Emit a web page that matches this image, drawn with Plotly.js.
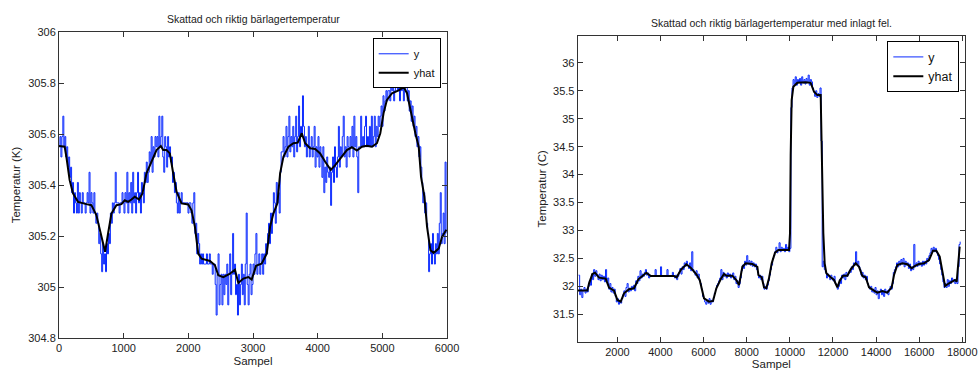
<!DOCTYPE html>
<html>
<head>
<meta charset="utf-8">
<script src="https://cdn.plot.ly/plotly-3.0.1.min.js"></script>
<style>html,body{margin:0;padding:0;background:#fff;}#chart{width:978px;height:371px;}</style>
</head>
<body>
<div id="chart"></div>
<script>
// ---------- Left chart: Skattad och riktig bärlagertemperatur ----------
const leftTitle = "Skattad och riktig bärlagertemperatur";
const leftYStep = 15; // sample spacing of the measured series below
const leftY = [
  305.55,305.59,305.51,305.59,305.67,305.55,305.59,305.51,305.55,305.47,
  305.51,305.43,305.47,305.37,305.41,305.29,305.37,305.33,305.29,305.41,
  305.29,305.37,305.33,305.29,305.37,305.33,305.33,305.29,305.33,305.37,
  305.33,305.45,305.29,305.37,305.33,305.29,305.37,305.29,305.25,305.29,
  305.25,305.17,305.21,305.13,305.06,305.17,305.09,305.13,305.06,305.17,
  305.13,305.21,305.17,305.29,305.25,305.33,305.29,305.33,305.45,305.33,
  305.33,305.33,305.29,305.33,305.33,305.37,305.33,305.29,305.37,305.33,
  305.45,305.29,305.37,305.33,305.41,305.29,305.45,305.33,305.37,305.29,
  305.37,305.45,305.33,305.37,305.29,305.41,305.37,305.33,305.45,305.41,
  305.49,305.41,305.45,305.53,305.49,305.59,305.45,305.55,305.51,305.59,
  305.55,305.59,305.51,305.67,305.55,305.59,305.67,305.51,305.45,305.59,
  305.55,305.47,305.59,305.51,305.55,305.49,305.51,305.41,305.45,305.37,
  305.41,305.33,305.29,305.37,305.29,305.33,305.37,305.33,305.33,305.33,
  305.33,305.33,305.33,305.29,305.33,305.33,305.29,305.25,305.33,305.37,
  305.21,305.25,305.13,305.21,305.17,305.09,305.13,305.09,305.13,305.09,
  305.09,305.09,305.13,305.09,305.09,305.13,305.09,305.09,305.05,305.09,
  305.09,305.01,304.89,305.05,305.13,304.93,305.01,305.05,304.93,305.05,
  304.97,305.05,305.01,305.09,304.93,305.05,305.13,304.97,305.05,305.21,
  305.05,305.09,304.97,305.01,304.89,305.05,304.93,305.01,305.09,304.97,
  305.05,304.93,305.09,305.29,305.01,304.93,305.05,305.09,304.97,305.01,
  305.09,305.05,305.13,305.21,305.05,305.09,305.13,305.05,305.09,305.13,
  305.05,305.13,305.09,305.17,305.13,305.21,305.25,305.17,305.29,305.21,
  305.29,305.37,305.33,305.25,305.41,305.33,305.37,305.29,305.45,305.53,
  305.53,305.59,305.51,305.55,305.63,305.51,305.59,305.67,305.53,305.59,
  305.55,305.63,305.51,305.59,305.67,305.53,305.59,305.71,305.55,305.63,
  305.59,305.75,305.63,305.55,305.59,305.51,305.55,305.63,305.51,305.55,
  305.59,305.51,305.55,305.63,305.47,305.55,305.51,305.59,305.47,305.55,
  305.51,305.43,305.55,305.37,305.47,305.41,305.51,305.45,305.43,305.47,
  305.32,305.45,305.51,305.41,305.55,305.47,305.43,305.51,305.63,305.47,
  305.55,305.51,305.59,305.67,305.51,305.55,305.47,305.59,305.55,305.51,
  305.59,305.55,305.63,305.51,305.67,305.55,305.59,305.51,305.37,305.55,
  305.55,305.67,305.55,305.59,305.55,305.63,305.67,305.55,305.59,305.55,
  305.63,305.55,305.67,305.55,305.59,305.67,305.55,305.63,305.59,305.67,
  305.63,305.67,305.71,305.63,305.75,305.69,305.73,305.77,305.73,305.77,
  305.77,305.73,305.81,305.77,305.85,305.73,305.77,305.81,305.85,305.77,
  305.81,305.73,305.85,305.77,305.81,305.73,305.77,305.85,305.81,305.73,
  305.77,305.69,305.73,305.65,305.71,305.63,305.67,305.59,305.63,305.55,
  305.59,305.51,305.55,305.47,305.41,305.33,305.37,305.29,305.33,305.25,
  305.21,305.06,305.13,305.17,305.09,305.21,305.13,305.09,305.17,305.13,
  305.21,305.13,305.25,305.37,305.17,305.21,305.29,305.17,305.49,305.21
];
const leftHatX = [0,88,114,165,217,294,423,501,578,656,713,759,811,888,966,1017,1069,1121,1172,1239,1291,1353,1430,1508,1575,1611,1663,1714,1766,1818,1895,1999,2050,2102,2153,2205,2334,2412,2463,2541,2644,2721,2773,2851,2928,2980,3047,3135,3212,3264,3315,3377,3419,3470,3548,3625,3692,3754,3806,3883,3961,4038,4116,4203,4271,4348,4451,4529,4606,4684,4761,4839,4916,4968,5019,5071,5149,5252,5329,5381,5443,5510,5562,5598,5650,5691,5743,5794,5872,5923,5990];
const leftHat = [305.553,305.55,305.511,305.419,305.367,305.334,305.325,305.321,305.282,305.203,305.138,305.21,305.288,305.321,305.325,305.34,305.334,305.343,305.354,305.343,305.367,305.446,305.491,305.537,305.553,305.537,305.537,305.524,305.446,305.374,305.328,305.324,305.301,305.236,305.131,305.111,305.102,305.085,305.046,305.039,305.052,305.068,305.016,305.033,305.039,305.029,305.083,305.092,305.131,305.236,305.288,305.328,305.446,305.511,305.55,305.564,305.566,305.603,305.564,305.544,305.541,305.524,305.491,305.459,305.478,305.505,305.537,305.548,305.535,305.55,305.554,305.55,305.564,305.603,305.682,305.734,305.76,305.771,305.784,305.76,305.682,305.603,305.55,305.432,305.354,305.236,305.144,305.134,305.151,305.197,305.225];

// ---------- Right chart: with injected fault ----------
const rightTitle = "Skattad och riktig bärlagertemperatur med inlagt fel.";
const rightYStart = 200, rightYStep = 50;
const rightY = [
  32.20,31.85,31.95,31.80,31.92,31.98,31.88,31.95,31.90,32.00,
  32.10,32.02,32.22,32.12,32.30,32.18,32.28,32.20,32.12,32.22,
  32.10,32.20,32.12,32.18,32.08,32.30,32.10,32.15,31.95,32.05,
  31.90,31.98,31.88,31.95,31.82,31.72,31.78,31.68,31.75,31.70,
  31.78,31.85,31.92,31.82,31.98,32.05,31.90,31.97,31.92,32.00,
  31.95,32.02,31.92,32.10,32.05,32.18,32.10,32.28,32.15,32.22,
  32.18,32.25,32.30,32.20,32.24,32.15,32.20,32.19,32.19,32.19,
  32.19,32.30,32.19,32.19,32.19,32.19,32.35,32.19,32.19,32.19,
  32.19,32.19,32.30,32.19,32.19,32.19,32.19,32.25,32.19,32.15,
  32.20,32.12,32.18,32.25,32.32,32.22,32.35,32.30,32.42,32.36,
  32.45,32.38,32.32,32.42,32.28,32.62,32.30,32.25,32.20,32.28,
  32.15,32.22,32.10,32.05,31.95,31.82,31.78,31.72,31.68,31.75,
  31.70,31.78,31.68,31.75,31.72,31.80,31.88,31.95,32.02,32.05,
  32.10,32.15,32.30,32.12,32.25,32.18,32.22,32.15,32.24,32.18,
  32.22,32.15,32.20,32.24,32.12,32.18,32.05,32.10,31.98,32.05,
  32.15,32.28,32.38,32.32,32.45,32.38,32.55,32.40,32.46,32.38,
  32.45,32.36,32.42,32.35,32.40,32.30,32.25,32.15,32.20,32.12,
  32.18,32.05,31.95,32.00,31.95,32.02,32.10,32.20,32.30,32.38,
  32.50,32.55,32.62,32.70,32.60,32.65,32.78,32.62,32.70,32.64,
  32.68,32.62,32.75,32.65,32.70,32.62,32.68,35.20,35.55,35.70,
  35.62,35.75,35.60,35.70,35.65,35.72,35.60,35.75,35.64,35.70,
  35.62,35.72,35.65,35.78,35.60,35.70,35.66,35.55,35.48,35.40,
  35.50,35.38,35.45,35.40,35.55,34.60,32.35,32.45,32.30,32.25,
  32.15,32.22,32.18,32.12,32.20,32.15,32.10,32.18,32.05,32.02,
  31.95,32.00,32.12,32.05,32.20,32.15,32.22,32.12,32.25,32.18,
  32.22,32.28,32.25,32.35,32.30,32.42,32.38,32.62,32.40,32.45,
  32.35,32.30,32.20,32.25,32.15,32.20,32.12,32.18,32.05,32.00,
  31.95,32.00,31.90,31.95,31.88,31.98,31.85,31.92,31.78,31.90,
  31.95,31.85,31.92,31.82,31.95,31.88,31.92,31.85,31.95,32.00,
  31.95,32.05,32.25,32.30,32.35,32.42,32.35,32.45,32.38,32.48,
  32.40,32.50,32.35,32.45,32.38,32.42,32.32,32.40,32.28,32.35,
  32.30,32.75,32.35,32.42,32.36,32.45,32.38,32.42,32.36,32.45,
  32.38,32.45,32.40,32.50,32.45,32.55,32.60,32.68,32.62,32.70,
  32.62,32.68,32.60,32.55,32.48,32.40,32.30,32.20,32.08,31.98,
  32.05,31.98,32.12,32.00,32.10,32.05,32.15,32.08,32.12,32.05,
  32.10,32.05,32.35,32.75,32.80
];
const rightHatX = [160,609,686,840,964,1150,1459,1613,1845,2000,2155,2309,2541,2773,2974,3160,3345,3546,4087,4628,4752,4937,5200,5401,5664,5819,6020,6252,6437,6592,6793,6948,7055,7334,7519,7643,7798,7952,8262,8494,8540,8694,8802,8911,9034,9158,9313,9467,9962,10008,10039,10085,10163,10348,10735,10967,11122,11276,11431,11462,11508,11554,11616,11694,11895,12050,12205,12313,12467,12668,12822,13054,13209,13363,13518,13673,13905,14060,14292,14524,14725,14833,14987,15219,15451,15652,15807,15993,16225,16457,16642,16797,16952,17075,17199,17384,17570,17663,17740,17848,17879];
const rightHat = [31.924,31.924,32.055,32.22,32.245,32.156,32.14,31.98,31.924,31.757,31.727,31.876,31.948,31.966,32.126,32.19,32.245,32.186,32.186,32.186,32.162,32.293,32.395,32.335,32.216,32.114,31.787,31.727,31.739,31.966,32.126,32.222,32.19,32.19,32.114,32.025,32.35,32.412,32.40,32.35,32.204,32.162,31.983,31.966,32.144,32.412,32.603,32.651,32.651,32.95,34.349,35.333,35.571,35.642,35.654,35.642,35.481,35.422,35.422,34.617,33.783,32.95,32.412,32.234,32.162,32.114,31.983,32.102,32.19,32.19,32.305,32.412,32.35,32.186,32.162,31.983,31.924,31.888,31.918,31.888,31.983,32.204,32.383,32.412,32.395,32.323,32.365,32.40,32.412,32.472,32.639,32.639,32.532,32.234,32.007,32.055,32.096,32.114,32.084,32.591,32.71];

const seriesNames = ["y", "yhat"];
const xTitle = "Sampel";
const leftYTitle = "Temperatur (K)";
const rightYTitle = "Temperatur (C)";

const leftYX = leftY.map((_, i) => i * leftYStep);
const rightYX = rightY.map((_, i) => rightYStart + i * rightYStep);

const FONT = "Liberation Sans, Arial, sans-serif";
const blue = "#0a2aff";

const traces = [
  {x: leftYX, y: leftY, type: "scatter", mode: "lines", name: seriesNames[0],
   line: {color: blue, width: 1, shape: "hv"}, xaxis: "x", yaxis: "y", legend: "legend"},
  {x: leftHatX, y: leftHat, type: "scatter", mode: "lines", name: seriesNames[1],
   line: {color: "#000", width: 2}, xaxis: "x", yaxis: "y", legend: "legend"},
  {x: rightYX, y: rightY, type: "scatter", mode: "lines", name: seriesNames[0],
   line: {color: blue, width: 1, shape: "hv"}, xaxis: "x2", yaxis: "y2", legend: "legend2"},
  {x: rightHatX, y: rightHat, type: "scatter", mode: "lines", name: seriesNames[1],
   line: {color: "#000", width: 2}, xaxis: "x2", yaxis: "y2", legend: "legend2"}
];

const axisCommon = {
  showgrid: false, zeroline: false, showline: true, linecolor: "#333", linewidth: 1,
  mirror: "ticks", ticks: "inside", ticklen: 5, tickcolor: "#333", tickwidth: 1,
  tickfont: {family: FONT, size: 11, color: "#222"}, tickformat: "d"
};

const layout = {
  width: 978, height: 371,
  margin: {l: 0, r: 0, t: 0, b: 0},
  paper_bgcolor: "#fff", plot_bgcolor: "#fff",
  font: {family: FONT, color: "#222"},
  showlegend: true,
  xaxis: Object.assign({}, axisCommon, {domain: [0.0603, 0.4571], range: [0, 6000], dtick: 1000, tick0: 0,
    title: {text: xTitle, font: {family: FONT, size: 11.5, color: "#222"}, standoff: 3}, anchor: "y"}),
  yaxis: Object.assign({}, axisCommon, {domain: [0.0889, 0.9137], range: [304.8, 306], dtick: 0.2, tick0: 304.8, tickformat: "",
    title: {text: leftYTitle, font: {family: FONT, size: 11.5, color: "#222"}, standoff: 5}, anchor: "x"}),
  xaxis2: Object.assign({}, axisCommon, {domain: [0.5907, 0.9867], range: [160, 18125], dtick: 2000, tick0: 0,
    title: {text: xTitle, font: {family: FONT, size: 11.5, color: "#222"}, standoff: 3}, anchor: "y2"}),
  yaxis2: Object.assign({}, axisCommon, {domain: [0.079, 0.903], range: [31.01, 36.48], dtick: 0.5, tick0: 31.5, tickformat: "",
    title: {text: rightYTitle, font: {family: FONT, size: 11.5, color: "#222"}, standoff: 4}, anchor: "x2"}),
  legend: {x: 0.4506, y: 0.8968, xanchor: "right", yanchor: "top", bgcolor: "#fff",
    bordercolor: "#000", borderwidth: 1, font: {family: FONT, size: 11, color: "#111"},
    tracegroupgap: 0, itemwidth: 30},
  legend2: {x: 0.9809, y: 0.8887, xanchor: "right", yanchor: "top", bgcolor: "#fff",
    bordercolor: "#000", borderwidth: 1, font: {family: FONT, size: 12.5, color: "#111"},
    tracegroupgap: 0, itemwidth: 30},
  annotations: [
    {text: leftTitle, xref: "paper", yref: "paper", x: 0.2587, y: 0.9488, xanchor: "center", yanchor: "middle",
     showarrow: false, font: {family: FONT, size: 10.5, color: "#222"}},
    {text: rightTitle, xref: "paper", yref: "paper", x: 0.7887, y: 0.938, xanchor: "center", yanchor: "middle",
     showarrow: false, font: {family: FONT, size: 10.5, color: "#222"}}
  ]
};

Plotly.newPlot("chart", traces, layout, {staticPlot: true, displayModeBar: false});
</script>
</body>
</html>
